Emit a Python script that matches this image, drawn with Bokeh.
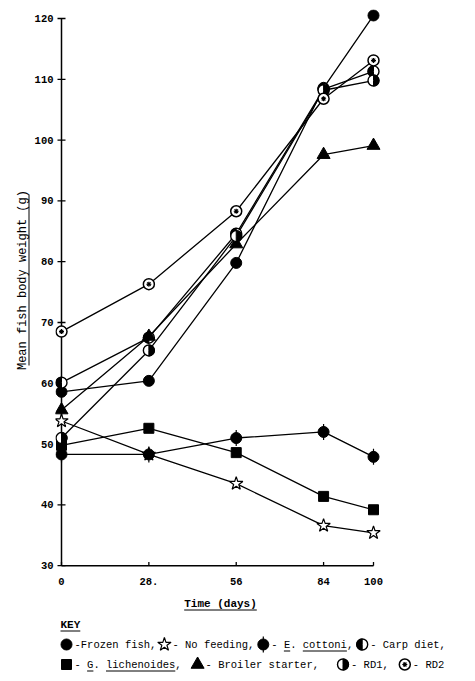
import math
from bokeh.plotting import figure
from bokeh.layouts import column, row
from bokeh.models import Range1d, FixedTicker
from bokeh.core.properties import value
from bokeh.embed import file_html
from bokeh.resources import INLINE

# ---------------- data ----------------
days = [0, 28, 56, 84, 100]
x_tick_labels = ["0", "28.", "56", "84", "100"]
y_ticks = [30, 40, 50, 60, 70, 80, 90, 100, 110, 120]

frozen_fish = [58.6, 60.4, 79.8, 108.6, 120.5]
no_feeding = [53.8, 48.3, 43.5, 36.6, 35.4]
e_cottoni = [48.3, 48.3, 51.0, 52.0, 47.9]
carp_diet = [60.1, 67.5, 84.6, 108.4, 111.3]
g_lichenoides = [49.8, 52.6, 48.6, 41.4, 39.2]
broiler_starter = [55.6, 67.7, 82.9, 97.6, 99.1]
rd1 = [51.0, 65.4, 84.2, 108.2, 109.8]
rd2 = [68.5, 76.3, 88.3, 106.8, 113.1]

x_title = "Time (days)"
y_title = "Mean fish body weight (g)"
key_title = "KEY"
key_line1 = ["-Frozen fish,", "- No feeding,", "- E. cottoni,", "- Carp diet,"]
key_line2 = ["- G. lichenoides,", "- Broiler starter,", "- RD1,", "- RD2"]

FONT = "Liberation Mono"

series = [
    ("frozen", frozen_fish),
    ("star", no_feeding),
    ("ecottoni", e_cottoni),
    ("carp", carp_diet),
    ("square", g_lichenoides),
    ("triangle", broiler_starter),
    ("rd1", rd1),
    ("rd2", rd2),
]


def draw_marker(fig, kind, xs, ys):
    if kind == "frozen":
        fig.scatter(xs, ys, marker="circle", size=11, fill_color="black", line_color="black")
    elif kind == "star":
        fig.scatter(xs, ys, marker="star", size=14, fill_color="white", line_color="black", line_width=1.2)
    elif kind == "ecottoni":
        fig.scatter(xs, ys, marker="dash", angle=math.pi / 2, size=16, line_color="black", line_width=1.2)
        fig.scatter(xs, ys, marker="circle", size=11, fill_color="black", line_color="black")
    elif kind in ("carp", "rd1"):
        fig.scatter(xs, ys, marker="circle", size=11, fill_color="white", line_color="black", line_width=1.4)
        if kind == "carp":
            a0, a1 = math.pi / 2, 3 * math.pi / 2
        else:
            a0, a1 = -math.pi / 2, math.pi / 2
        fig.wedge(xs, ys, radius=5.5, radius_units="screen", start_angle=a0, end_angle=a1,
                  fill_color="black", line_color="black")
    elif kind == "square":
        fig.scatter(xs, ys, marker="square", size=10, fill_color="black", line_color="black")
    elif kind == "triangle":
        fig.scatter(xs, ys, marker="triangle", size=13, fill_color="black", line_color="black")
    elif kind == "rd2":
        fig.scatter(xs, ys, marker="circle", size=11, fill_color="white", line_color="black", line_width=1.5)
        fig.scatter(xs, ys, marker="asterisk", size=5, line_color="black", line_width=1.1)


# ---------------- geometry (page px; page has no margin) ----------------
PX_PER_DAY = 3.12
PX_PER_G = 6.08
YT_W = 31          # width of the y-title strip
MAIN_W = 430
LEFT_B = 24
frame_left = YT_W + LEFT_B
frame_w = 330
RIGHT_B = MAIN_W - LEFT_B - frame_w
TOP_B = 9
frame_h = 562
BOTTOM_B = 21
MAIN_H = TOP_B + frame_h + BOTTOM_B
x_start = -(61 - frame_left) / PX_PER_DAY
x_end = x_start + frame_w / PX_PER_DAY
y_end = 120 + (18 - TOP_B) / PX_PER_G
y_start = y_end - frame_h / PX_PER_G

p = figure(width=MAIN_W, height=MAIN_H, output_backend="svg", toolbar_location=None,
           x_range=Range1d(x_start, x_end), y_range=Range1d(y_start, y_end),
           min_border_left=LEFT_B, min_border_right=RIGHT_B,
           min_border_top=TOP_B, min_border_bottom=BOTTOM_B)
p.grid.visible = False
p.outline_line_color = None
p.background_fill_color = "white"

for ax in (p.xaxis, p.yaxis):
    ax.axis_line_color = None
    ax.major_tick_line_color = None
    ax.minor_tick_line_color = None
    ax.major_tick_out = 0
    ax.major_tick_in = 0
    ax.minor_tick_out = 0
    ax.minor_tick_in = 0
    ax.major_label_text_font = FONT
    ax.major_label_text_font_size = "10.5px"
    ax.major_label_text_font_style = "bold"
    ax.major_label_text_color = "black"

p.xaxis.ticker = FixedTicker(ticks=days)
p.xaxis.major_label_overrides = {d: lab for d, lab in zip(days, x_tick_labels)}
p.xaxis.major_label_standoff = 6
p.yaxis.ticker = FixedTicker(ticks=y_ticks)
p.yaxis.major_label_standoff = 2

# axis lines and ticks
p.segment(x0=[days[0]], y0=[y_ticks[0]], x1=[days[-1]], y1=[y_ticks[0]], line_color="black", line_width=1.5)
p.segment(x0=[days[0]], y0=[y_ticks[0]], x1=[days[0]], y1=[y_ticks[-1]], line_color="black", line_width=1.5)
p.scatter([days[0]] * len(y_ticks), y_ticks, marker="dash", size=8, line_color="black", line_width=1.3)
p.segment(x0=days, y0=[y_ticks[0]] * len(days), x1=days, y1=[y_ticks[0] + 0.6] * len(days),
          line_color="black", line_width=1.3)

for kind, vals in series:
    p.line(days, vals, line_color="black", line_width=1.3)
for kind, vals in series:
    draw_marker(p, kind, days, vals)

# ---------------- y title strip ----------------
yt = figure(width=YT_W, height=MAIN_H, output_backend="svg", toolbar_location=None,
            x_range=Range1d(0, YT_W), y_range=Range1d(0, MAIN_H),
            x_axis_type=None, y_axis_type=None, min_border=0)
yt.grid.visible = False
yt.outline_line_color = None
YFS = 12
ycx, ycy = 22, MAIN_H - 285
yt.text(x=[ycx], y=[ycy], text=[y_title], angle=math.pi / 2, text_font=value(FONT),
        text_font_size=f"{YFS}px", text_align="center", text_baseline="middle", text_color="black")
half = len(y_title) * 0.6 * YFS / 2
yt.segment(x0=[ycx + 6.5], y0=[ycy - half], x1=[ycx + 6.5], y1=[ycy + half], line_color="black", line_width=1)

# ---------------- key / x title ----------------
KEY_W = 475
KEY_H = 681 - MAIN_H
KY0 = MAIN_H
kf = figure(width=KEY_W, height=KEY_H, output_backend="svg", toolbar_location=None,
            x_range=Range1d(0, KEY_W), y_range=Range1d(KEY_H, 0),
            x_axis_type=None, y_axis_type=None, min_border=0)
kf.grid.visible = False
kf.outline_line_color = None


def put_text(x, y, s, underline_spans=(), bold=False, fs=10.5):
    cw = 0.6 * fs
    kf.text(x=[x], y=[y], text=[s], text_font=value(FONT), text_font_size=f"{fs}px",
            text_font_style="bold" if bold else "normal",
            text_align="left", text_baseline="middle", text_color="black")
    for (i0, i1) in underline_spans:
        kf.segment(x0=[x + i0 * cw], y0=[y + 6.5], x1=[x + i1 * cw], y1=[y + 6.5],
                   line_color="black", line_width=1)
    return len(s) * cw


def spans_for(s):
    out = []
    for word, n in (("E.", 1), ("cottoni", 7), ("G.", 1), ("lichenoides", 11)):
        if word in s:
            i = s.index(word)
            out.append((i, i + n))
    return out


# x title, centred on the page position of the original
put_text(220 - len(x_title) * 0.6 * 11 / 2, 603 - KY0, x_title, [(0, len(x_title))], bold=True, fs=11)
put_text(60, 624 - KY0, key_title, [(0, len(key_title))], bold=True, fs=11)


def key_line(kinds, labels, gaps, y):
    m = 66
    for i, (kind, lab) in enumerate(zip(kinds, labels)):
        draw_marker(kf, kind, [m], [y])
        tx = m + 8
        w = put_text(tx, y, lab, spans_for(lab))
        if i < len(gaps):
            m = tx + w + gaps[i]


key_line(["frozen", "star", "ecottoni", "carp"], key_line1, [8, 9, 9], 644 - KY0)
key_line(["square", "triangle", "rd1", "rd2"], key_line2, [16, 24, 16], 664 - KY0)

layout = column(row(yt, p, spacing=0), kf, spacing=0)
open("out.html", "w").write(file_html(layout, INLINE))
